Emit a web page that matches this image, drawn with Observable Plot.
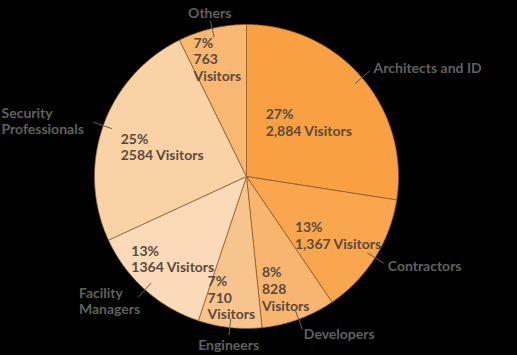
<!DOCTYPE html>
<html><head><meta charset="utf-8">
<script src="https://cdn.jsdelivr.net/npm/d3@7"></script>
<script src="https://cdn.jsdelivr.net/npm/@observablehq/plot@0.6"></script>
<style>html,body{margin:0;padding:0;background:#000;}</style>
</head><body><div id="chart"></div>
<script>
const categories = ["Architects and ID", "Contractors", "Developers", "Engineers", "Facility\nManagers", "Security\nProfessionals", "Others"];
const visitors = [2884, 1367, 828, 710, 1364, 2584, 763];
const visitorLabels = ["2,884 Visitors", "1,367 Visitors", "828\nVisitors", "710\nVisitors", "1364 Visitors", "2584 Visitors", "763\nVisitors"];
const colors = ["#f9a043", "#f9a64f", "#f8b56f", "#f8c48d", "#fadab9", "#f9d2a6", "#f8b773"];

const W = 517, H = 355, ml = 94, mr = 119, mt = 24, mb = 27;
const unit = (W - ml - mr) / 2;
const innerCharW = 6.4, outerCharW = 7.0;
const total = d3.sum(visitors);
let acc = 0;
const slices = categories.map((c, i) => {
  const a0 = acc / total * 2 * Math.PI; acc += visitors[i];
  const a1 = acc / total * 2 * Math.PI;
  return {c, i, a0, a1, mid: (a0 + a1) / 2, v: visitors[i]};
});

const polys = slices.flatMap(s => {
  const n = Math.max(2, Math.ceil((s.a1 - s.a0) / (Math.PI / 360)));
  const pts = [{c: s.c, x: 0, y: 0}];
  for (let k = 0; k <= n; k++) {
    const a = s.a0 + (s.a1 - s.a0) * k / n;
    pts.push({c: s.c, x: Math.sin(a), y: Math.cos(a)});
  }
  pts.push({c: s.c, x: 0, y: 0});
  return pts;
});

const inner = slices.map(s => {
  const spanDeg = (s.a1 - s.a0) * 180 / Math.PI;
  const r = 0.88 - 0.0033 * spanDeg;
  const text = `${Math.round(s.v / total * 100)}%\n${visitorLabels[s.i]}`;
  const maxLen = d3.max(text.split("\n"), l => l.length);
  const cx = r * Math.sin(s.mid), cy = r * Math.cos(s.mid);
  return {text, x: cx - (maxLen * innerCharW / 2) / unit, y: cy};
});

const leftEdge = -1 - ml / unit;
const outer = slices.map(s => {
  const sn = Math.sin(s.mid), cs = Math.cos(s.mid);
  const vertical = Math.abs(cs) > 0.95;
  const r2 = vertical ? 1.05 : 1.07, rt = vertical ? 1.07 : 1.1;
  const ta = sn > 0.25 ? "start" : sn < -0.25 ? "end" : "middle";
  let x = rt * sn;
  if (ta === "end") {
    // left-aligned block whose longest line ends at the leader
    const maxLen = d3.max(s.c.split("\n"), l => l.length);
    x = Math.max(x - maxLen * outerCharW / unit, leftEdge + 1 / unit);
  }
  return {text: s.c, x1: 0.94 * sn, y1: 0.94 * cs, x2: r2 * sn, y2: r2 * cs, x, y: rt * cs,
    ta: ta === "end" ? "start" : ta,
    la: cs > 0.95 ? "bottom" : cs < -0.95 ? "top" : "middle"};
});
const combos = Array.from(new Set(outer.map(d => d.ta + "|" + d.la))).map(k => k.split("|"));

const chart = Plot.plot({
  width: W, height: H,
  marginLeft: ml, marginRight: mr, marginTop: mt, marginBottom: mb,
  style: {background: "#000", overflow: "visible"},
  x: {domain: [-1, 1], axis: null},
  y: {domain: [-1, 1], axis: null},
  color: {domain: categories, range: colors},
  marks: [
    Plot.line(polys, {x: "x", y: "y", z: "c", fill: "c", stroke: "#8b5a2b", strokeWidth: 0.7, strokeLinejoin: "round"}),
    Plot.link(outer, {x1: "x1", y1: "y1", x2: "x2", y2: "y2", stroke: "#5e5e5e", strokeWidth: 1}),
    ...combos.map(([ta, la]) => Plot.text(outer.filter(d => d.ta === ta && d.la === la), {
      x: "x", y: "y", text: "text", textAnchor: ta, lineAnchor: la, ariaLabel: "outer-label",
      fill: "#606060", fontSize: 14, fontWeight: "bold", fontFamily: "Lato", lineHeight: 1.15
    })),
    Plot.text(inner, {x: "x", y: "y", text: "text", textAnchor: "start", lineAnchor: "middle", ariaLabel: "inner-label",
      fill: "#5a4a3e", fontSize: 14, fontWeight: "bold", fontFamily: "Lato", lineHeight: 1.2})
  ]
});
d3.select(chart).selectAll('g[aria-label="outer-label"]').attr("letter-spacing", "0.4px");
document.getElementById("chart").appendChild(chart);
</script>
</body></html>
